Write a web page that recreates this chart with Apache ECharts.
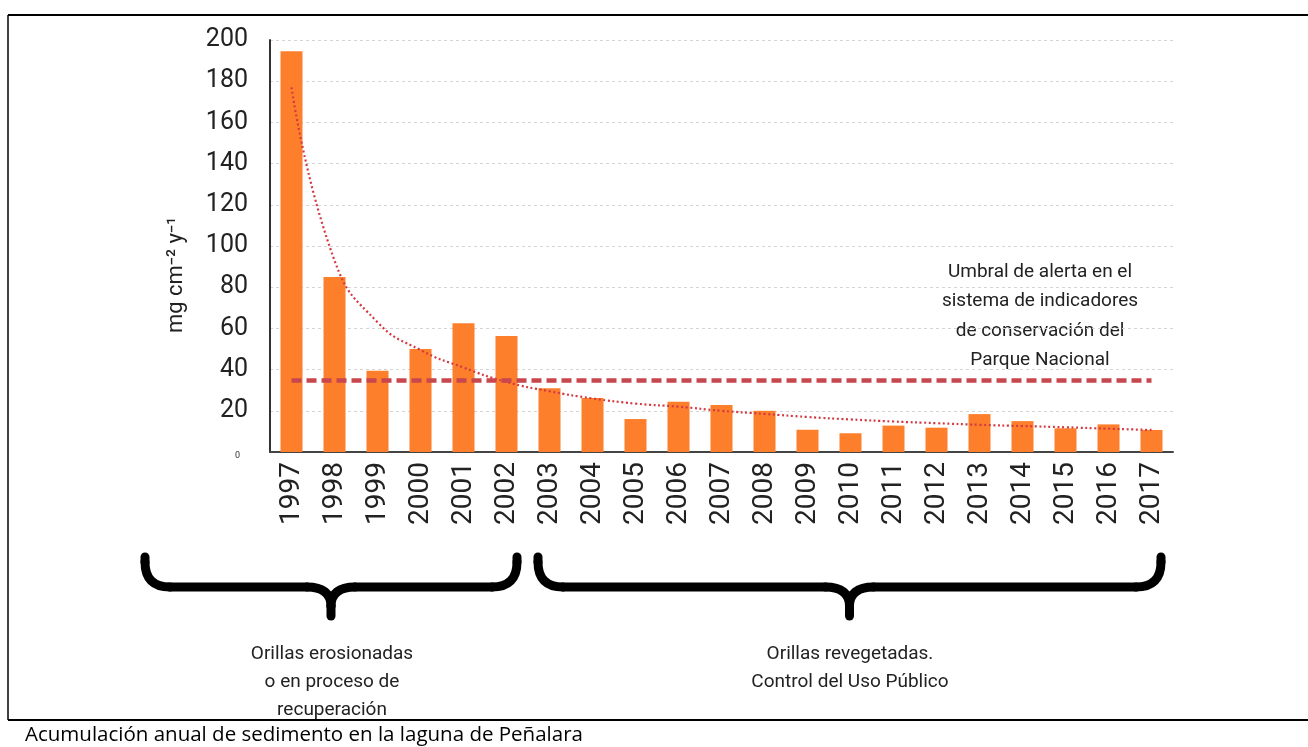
<!DOCTYPE html>
<html>
<head>
<meta charset="utf-8">
<script src="https://cdn.jsdelivr.net/npm/echarts@6/dist/echarts.min.js"></script>
<style>
  html, body { margin: 0; padding: 0; background: #fff; }
  #sedChart { width: 1308px; height: 747px; }
</style>
</head>
<body>
<div id="sedChart"></div>
<script>
// años
const years = ["1997", "1998", "1999", "2000", "2001", "2002", "2003", "2004", "2005", "2006", "2007",
  "2008", "2009", "2010", "2011", "2012", "2013", "2014", "2015", "2016", "2017"];
// acumulación anual (mg cm-2 y-1)
const sediment = [194.5, 85, 39.5, 50, 62.5, 56.3, 31, 26.2, 16, 24.4, 22.8,
  20, 10.8, 9.1, 12.8, 11.8, 18.4, 15, 11.5, 13.4, 10.7];
// línea de tendencia (punteada)
const trend = [177, 93, 63, 49.5, 41, 34, 29.5, 26, 23.5, 22, 20,
  18.5, 17, 15.8, 14.8, 14, 13.2, 12.6, 12, 11.3, 10.7];
// umbral de alerta
const threshold = 35;
const yMin = 0, yMax = 200, yStep = 20;

const labelFont = "'Liberation Sans Narrow', Roboto, sans-serif";
const textFont = "Roboto, 'Liberation Sans', sans-serif";

// llave horizontal girada: de x0 a x1, punta en el centro
function brace(x0, x1, top, mid, tip) {
  const c = (x0 + x1) / 2;
  const st = { stroke: "#000", lineWidth: 9, lineCap: "round", fill: null };
  const r = 25;
  return {
    type: "group",
    children: [
      { type: "line", shape: { x1: x0, y1: top, x2: x0, y2: mid - r }, style: st },
      { type: "bezierCurve", shape: { x1: x0, y1: mid - r, cpx1: x0, cpy1: mid, x2: x0 + r, y2: mid }, style: st },
      { type: "line", shape: { x1: x0 + r, y1: mid, x2: c - 24, y2: mid }, style: st },
      { type: "bezierCurve", shape: { x1: c - 24, y1: mid, cpx1: c, cpy1: mid, x2: c, y2: mid + 19 }, style: st },
      { type: "line", shape: { x1: c, y1: mid + 19, x2: c, y2: tip }, style: st },
      { type: "bezierCurve", shape: { x1: c + 24, y1: mid, cpx1: c, cpy1: mid, x2: c, y2: mid + 19 }, style: st },
      { type: "line", shape: { x1: c + 24, y1: mid, x2: x1 - r, y2: mid }, style: st },
      { type: "bezierCurve", shape: { x1: x1 - r, y1: mid, cpx1: x1, cpy1: mid, x2: x1, y2: mid - r }, style: st },
      { type: "line", shape: { x1: x1, y1: mid - r, x2: x1, y2: top }, style: st }
    ]
  };
}

let chart = echarts.init(document.getElementById("sedChart"));

chart.setOption({
  backgroundColor: "#fff",
  animation: false,
  grid: { left: 270, top: 40, width: 903, height: 412 },
  xAxis: {
    type: "category",
    data: years,
    axisTick: { show: false },
    axisLine: { lineStyle: { color: "#444", width: 2 } },
    axisLabel: {
      rotate: 90,
      margin: 10,
      color: "#222",
      fontSize: 28,
      fontFamily: textFont
    }
  },
  yAxis: {
    type: "value",
    min: yMin,
    max: yMax,
    interval: yStep,
    axisLine: { show: true, lineStyle: { color: "#333", width: 2 } },
    axisTick: { show: false },
    splitLine: {
      lineStyle: { color: "#d4d4d4", type: [3, 3], width: 1 }
    },
    axisLabel: {
      margin: 22,
      color: "#222",
      fontSize: 25,
      fontFamily: labelFont,
      formatter: function (v) {
        return v === 0 ? "{z|0}" : String(v);
      },
      rich: {
        z: { fontSize: 9, fontFamily: labelFont, color: "#333", padding: [8, 8, 0, 0] }
      }
    }
  },
  series: [
    {
      name: "sedimento",
      type: "bar",
      data: sediment,
      barWidth: 22,
      itemStyle: { color: "#fd7f2c" },
      markLine: {
        silent: true,
        symbol: "none",
        label: { show: false },
        lineStyle: { color: "#c8464e", width: 4.5, type: [10, 5] },
        data: [[{ coord: [years[0], threshold] }, { coord: [years[years.length - 1], threshold] }]]
      },
      z: 2
    },
    {
      name: "tendencia",
      type: "line",
      data: trend,
      smooth: 0.5,
      symbol: "none",
      lineStyle: { color: "#d23a40", width: 2.2, type: [2, 2.6] },
      z: 4
    }
  ],
  graphic: [
    // marco
    { type: "line", shape: { x1: 8, y1: 15, x2: 1308, y2: 15 }, style: { stroke: "#000", lineWidth: 2 } },
    { type: "line", shape: { x1: 8, y1: 15, x2: 8, y2: 720 }, style: { stroke: "#000", lineWidth: 1.5 } },
    { type: "line", shape: { x1: 8, y1: 720, x2: 1308, y2: 720 }, style: { stroke: "#000", lineWidth: 2 } },
    // eje y
    {
      type: "text",
      x: 176, y: 275,
      rotation: Math.PI / 2,
      style: {
        text: "mg cm\u207B\u00B2 y\u207B\u00B9",
        fill: "#222",
        fontSize: 22,
        fontFamily: textFont,
        textAlign: "center",
        textVerticalAlign: "middle"
      }
    },
    // texto umbral
    {
      type: "text",
      x: 1040, y: 316,
      style: {
        text: "Umbral de alerta en el\nsistema de indicadores\nde conservación del\nParque Nacional",
        fill: "#222",
        fontSize: 19,
        lineHeight: 29.5,
        fontFamily: textFont,
        textAlign: "center",
        textVerticalAlign: "middle"
      }
    },
    // llaves
    brace(145, 517, 557, 587, 616),
    brace(538, 1161, 557, 587, 616),
    {
      type: "text",
      x: 332, y: 682,
      style: {
        text: "Orillas erosionadas\no en proceso de\nrecuperación",
        fill: "#222",
        fontSize: 19,
        lineHeight: 28,
        fontFamily: textFont,
        textAlign: "center",
        textVerticalAlign: "middle"
      }
    },
    {
      type: "text",
      x: 850, y: 668,
      style: {
        text: "Orillas revegetadas.\nControl del Uso Público",
        fill: "#222",
        fontSize: 19,
        lineHeight: 28,
        fontFamily: textFont,
        textAlign: "center",
        textVerticalAlign: "middle"
      }
    },
    // pie de figura
    {
      type: "text",
      x: 25, y: 735,
      style: {
        text: "Acumulación anual de sedimento en la laguna de Peñalara",
        fill: "#000",
        fontSize: 20.5,
        fontFamily: "'Open Sans', 'Noto Sans', sans-serif",
        textAlign: "left",
        textVerticalAlign: "middle"
      }
    }
  ]
});

window.addEventListener("resize", () => {
  chart.resize();
});
</script>
</body>
</html>
